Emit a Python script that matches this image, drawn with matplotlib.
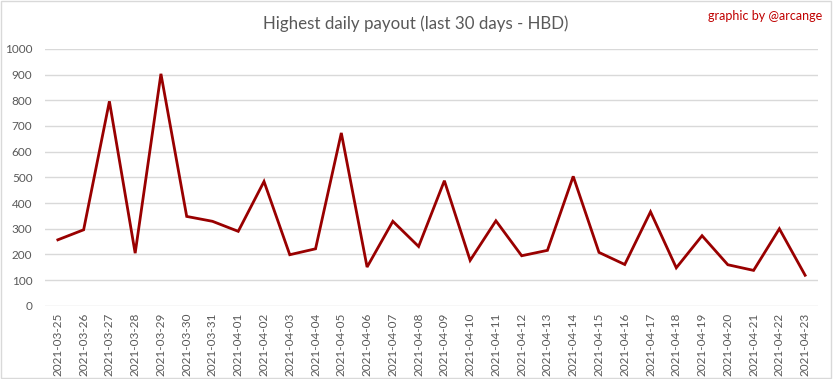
import matplotlib
matplotlib.use("Agg")
import matplotlib.pyplot as plt
from matplotlib.patches import Rectangle

# daily values
dates = ["2021-03-25", "2021-03-26", "2021-03-27", "2021-03-28", "2021-03-29",
         "2021-03-30", "2021-03-31", "2021-04-01", "2021-04-02", "2021-04-03",
         "2021-04-04", "2021-04-05", "2021-04-06", "2021-04-07", "2021-04-08",
         "2021-04-09", "2021-04-10", "2021-04-11", "2021-04-12", "2021-04-13",
         "2021-04-14", "2021-04-15", "2021-04-16", "2021-04-17", "2021-04-18",
         "2021-04-19", "2021-04-20", "2021-04-21", "2021-04-22", "2021-04-23"]
payout = [257, 296, 796, 205, 903, 348, 329, 290, 484, 199,
          222, 673, 151, 329, 231, 487, 177, 331, 195, 216,
          504, 208, 161, 366, 148, 273, 160, 138, 300, 119]
y_ticks = [0, 100, 200, 300, 400, 500, 600, 700, 800, 900, 1000]

plt.rcParams['font.family'] = ['Lato', 'DejaVu Sans']

fig = plt.figure(figsize=(8.33, 3.79), dpi=100)
ax = fig.add_axes([0.054, 0.193, 0.928, 0.678])

x = list(range(len(dates)))
ax.plot(x, payout, color="#990000", linewidth=2, solid_joinstyle="miter")

ax.set_xlim(-0.5, len(dates) - 0.5)
ax.set_ylim(0, 1000)
ax.set_yticks(y_ticks)
ax.set_xticks(x)
ax.set_xticklabels(dates, rotation=90)
ax.grid(axis="y", color="#d9d9d9", linewidth=1)
ax.set_axisbelow(True)
for s in ax.spines.values():
    s.set_visible(False)
ax.tick_params(length=0, colors="#595959", labelsize=8.5)
ax.tick_params(axis="y", pad=9)
ax.tick_params(axis="x", pad=5)

fig.text(0.4985, 0.938, "Highest daily payout (last 30 days - HBD)", ha="center", va="center",
         fontsize=12.2, color="#595959")
fig.text(0.987, 0.958, "graphic by @arcange", ha="right", va="center",
         fontsize=9, color="#c00000")

# light border round the whole picture
fig.patches.append(Rectangle((0.001, 0.002), 0.997, 0.995, transform=fig.transFigure,
                             fill=False, edgecolor="#d9d9d9", linewidth=1))

fig.savefig("out.png", dpi=100)
